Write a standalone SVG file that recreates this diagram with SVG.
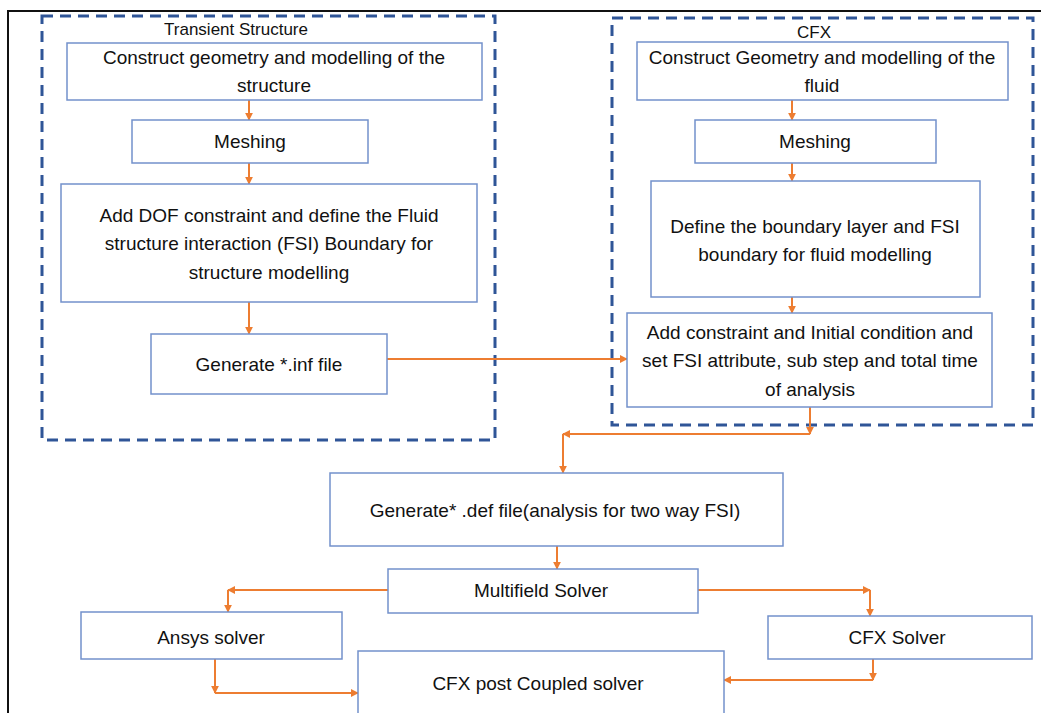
<svg xmlns="http://www.w3.org/2000/svg" width="1041" height="713" viewBox="0 0 1041 713">
<style>
.box{fill:#fff;stroke:#7391CB;stroke-width:1.5}
.grp{fill:none;stroke:#2F5597;stroke-width:3;stroke-dasharray:11 7}
.t{font-family:"Liberation Sans",Arial,sans-serif;font-size:19px;fill:#111;text-anchor:middle;dominant-baseline:central}
.h{font-size:17px}
.c{stroke:#ED7D31;stroke-width:2;fill:none;marker-end:url(#ah)}
</style>
<defs>
<marker id="ah" viewBox="0 0 10 10" refX="9" refY="5" markerWidth="4" markerHeight="4" orient="auto" markerUnits="strokeWidth">
<path d="M0,0 L10,5 L0,10 z" fill="#ED7D31"/>
</marker>
</defs>
<rect width="1041" height="713" fill="#fff"/>
<path d="M8,713 L8,11 L1041,11" fill="none" stroke="#111" stroke-width="2"/>

<g id="group-transient">
<rect class="grp" x="42" y="16" width="453" height="424"/>
<text class="t h" x="236" y="29">Transient Structure</text>
</g>
<g id="group-cfx">
<rect class="grp" x="612" y="18" width="421" height="407"/>
<text class="t h" x="814" y="32">CFX</text>
</g>

<g id="connectors">
<line class="c" x1="249" y1="100" x2="249" y2="120"/>
<line class="c" x1="249" y1="163" x2="249" y2="184"/>
<line class="c" x1="249" y1="302" x2="249" y2="334"/>
<line class="c" x1="387" y1="359" x2="627" y2="359"/>
<line class="c" x1="792" y1="100" x2="792" y2="120"/>
<line class="c" x1="792" y1="163" x2="792" y2="181"/>
<line class="c" x1="792" y1="297" x2="792" y2="313"/>
<line class="c" x1="810" y1="407" x2="810" y2="434"/>
<line class="c" x1="810" y1="434" x2="563" y2="434"/>
<line class="c" x1="563" y1="434" x2="563" y2="473"/>
<line class="c" x1="557" y1="546" x2="557" y2="569"/>
<line class="c" x1="388" y1="590" x2="228" y2="590"/>
<line class="c" x1="228" y1="590" x2="228" y2="612"/>
<line class="c" x1="698" y1="590" x2="870" y2="590"/>
<line class="c" x1="870" y1="590" x2="870" y2="616"/>
<line class="c" x1="215" y1="659" x2="215" y2="693"/>
<line class="c" x1="215" y1="693" x2="358" y2="693"/>
<line class="c" x1="873" y1="659" x2="873" y2="680"/>
<line class="c" x1="873" y1="680" x2="724" y2="680"/>
</g>

<g id="n-construct-structure">
<rect class="box" x="67" y="43" width="415" height="57"/>
<text class="t" x="274" y="57">Construct geometry and modelling of the</text>
<text class="t" x="274" y="85">structure</text>
</g>
<g id="n-meshing-structure">
<rect class="box" x="132" y="120" width="236" height="43"/>
<text class="t" x="250" y="141">Meshing</text>
</g>
<g id="n-dof">
<rect class="box" x="61" y="184" width="416" height="118"/>
<text class="t" x="269" y="215">Add DOF constraint and define the Fluid</text>
<text class="t" x="269" y="243">structure interaction (FSI) Boundary for</text>
<text class="t" x="269" y="272">structure modelling</text>
</g>
<g id="n-inf">
<rect class="box" x="151" y="334" width="236" height="60"/>
<text class="t" x="269" y="364">Generate *.inf file</text>
</g>

<g id="n-construct-fluid">
<rect class="box" x="637" y="42" width="371" height="58"/>
<text class="t" x="822" y="57">Construct Geometry and modelling of the</text>
<text class="t" x="822" y="85">fluid</text>
</g>
<g id="n-meshing-fluid">
<rect class="box" x="695" y="120" width="241" height="43"/>
<text class="t" x="815" y="141">Meshing</text>
</g>
<g id="n-boundary">
<rect class="box" x="651" y="181" width="329" height="116"/>
<text class="t" x="815" y="226">Define the boundary layer and FSI</text>
<text class="t" x="815" y="254">boundary for fluid modelling</text>
</g>
<g id="n-constraint">
<rect class="box" x="627" y="313" width="365" height="94"/>
<text class="t" x="810" y="332">Add constraint and Initial condition and</text>
<text class="t" x="810" y="360">set FSI attribute, sub step and total time</text>
<text class="t" x="810" y="389">of analysis</text>
</g>

<g id="n-def">
<rect class="box" x="330" y="473" width="453" height="73"/>
<text class="t" x="555" y="510">Generate* .def file(analysis for two way FSI)</text>
</g>
<g id="n-multifield">
<rect class="box" x="388" y="569" width="310" height="44"/>
<text class="t" x="541" y="590">Multifield Solver</text>
</g>
<g id="n-ansys">
<rect class="box" x="81" y="612" width="261" height="47"/>
<text class="t" x="211" y="637">Ansys solver</text>
</g>
<g id="n-cfxsolver">
<rect class="box" x="768" y="616" width="264" height="43"/>
<text class="t" x="897" y="637">CFX Solver</text>
</g>
<g id="n-post">
<rect class="box" x="358" y="651" width="366" height="64"/>
<text class="t" x="538" y="683">CFX post Coupled solver</text>
</g>
</svg>
